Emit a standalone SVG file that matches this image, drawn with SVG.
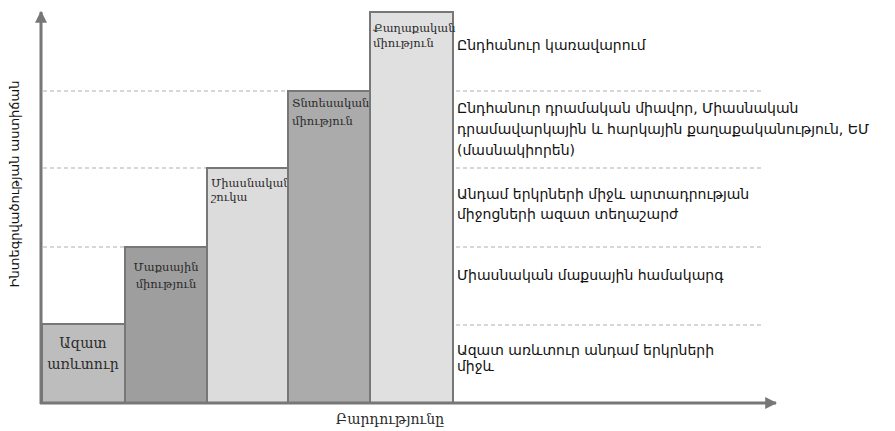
<svg xmlns="http://www.w3.org/2000/svg" width="895" height="431" viewBox="0 0 895 431">
<defs>
<style>
.bar{stroke:#777;stroke-width:2}
.dash{stroke:#b0b0b0;stroke-width:1.2;stroke-dasharray:4 3;fill:none}
.axis{stroke:#777;stroke-width:3;fill:none}
.bl{font-family:"DejaVu Serif","DejaVu Sans",serif;font-size:11.5px;fill:#2a2a2a}
.big{font-size:14px}
.rt{font-family:"DejaVu Sans",sans-serif;font-size:14px;fill:#111}
.ax{font-family:"DejaVu Sans",sans-serif;font-size:13px;fill:#111}
</style>
<marker id="ah" viewBox="0 0 10 10" refX="9" refY="5" markerWidth="4" markerHeight="4" orient="auto" markerUnits="strokeWidth">
<path d="M0,0L10,5L0,10z" fill="#777"/>
</marker>
</defs>
<rect width="895" height="431" fill="#fff"/>
<g id="gridlines">
<line class="dash" x1="43" y1="91" x2="763" y2="91"/>
<line class="dash" x1="43" y1="168" x2="763" y2="168"/>
<line class="dash" x1="43" y1="247" x2="763" y2="247"/>
<line class="dash" x1="43" y1="325" x2="763" y2="325"/>
</g>
<g id="bar1"><rect class="bar" x="42" y="324" width="83" height="79" fill="#bdbdbd"/>
<text class="bl big" x="83" y="348" text-anchor="middle">Ազատ</text>
<text class="bl big" x="83" y="369" text-anchor="middle">առևտուր</text></g>
<g id="bar2"><rect class="bar" x="125" y="247" width="82" height="156" fill="#9e9e9e"/>
<text class="bl" x="166" y="271" text-anchor="middle">Մաքսային</text>
<text class="bl" x="166" y="288" text-anchor="middle">միություն</text></g>
<g id="bar3"><rect class="bar" x="207" y="168" width="81" height="235" fill="#dcdcdc"/>
<text class="bl" x="211" y="187">Միասնական</text>
<text class="bl" x="211" y="201">շուկա</text></g>
<g id="bar4"><rect class="bar" x="288" y="91" width="82" height="312" fill="#ababab"/>
<text class="bl" x="292" y="107">Տնտեսական</text>
<text class="bl" x="292" y="125">միություն</text></g>
<g id="bar5"><rect class="bar" x="370" y="12" width="83" height="391" fill="#e0e0e0"/>
<text class="bl" x="373" y="32">Քաղաքական</text>
<text class="bl" x="373" y="47">միություն</text></g>
<g id="connectors">
<line class="axis" x1="41" y1="404" x2="41" y2="12" marker-end="url(#ah)"/>
<line class="axis" x1="40" y1="403" x2="776" y2="403" marker-end="url(#ah)"/>
</g>
<g id="labels">
<text class="rt" x="457" y="50">Ընդհանուր կառավարում</text>
<text class="rt" x="457" y="113">Ընդհանուր դրամական միավոր, Միասնական</text>
<text class="rt" x="457" y="134">դրամավարկային և հարկային քաղաքականություն, ԵՄ</text>
<text class="rt" x="457" y="155">(մասնակիորեն)</text>
<text class="rt" x="457" y="199">Անդամ երկրների միջև արտադրության</text>
<text class="rt" x="457" y="219">միջոցների ազատ տեղաշարժ</text>
<text class="rt" x="457" y="280">Միասնական մաքսային համակարգ</text>
<text class="rt" x="457" y="355">Ազատ առևտուր անդամ երկրների</text>
<text class="rt" x="457" y="371">միջև</text>
<text class="ax" x="19" y="184" text-anchor="middle" transform="rotate(-90 19 184)">Ինտեգրվածության աստիճան</text>
<text class="bl big" x="390" y="424" text-anchor="middle">Բարդությունը</text>
</g>
</svg>
